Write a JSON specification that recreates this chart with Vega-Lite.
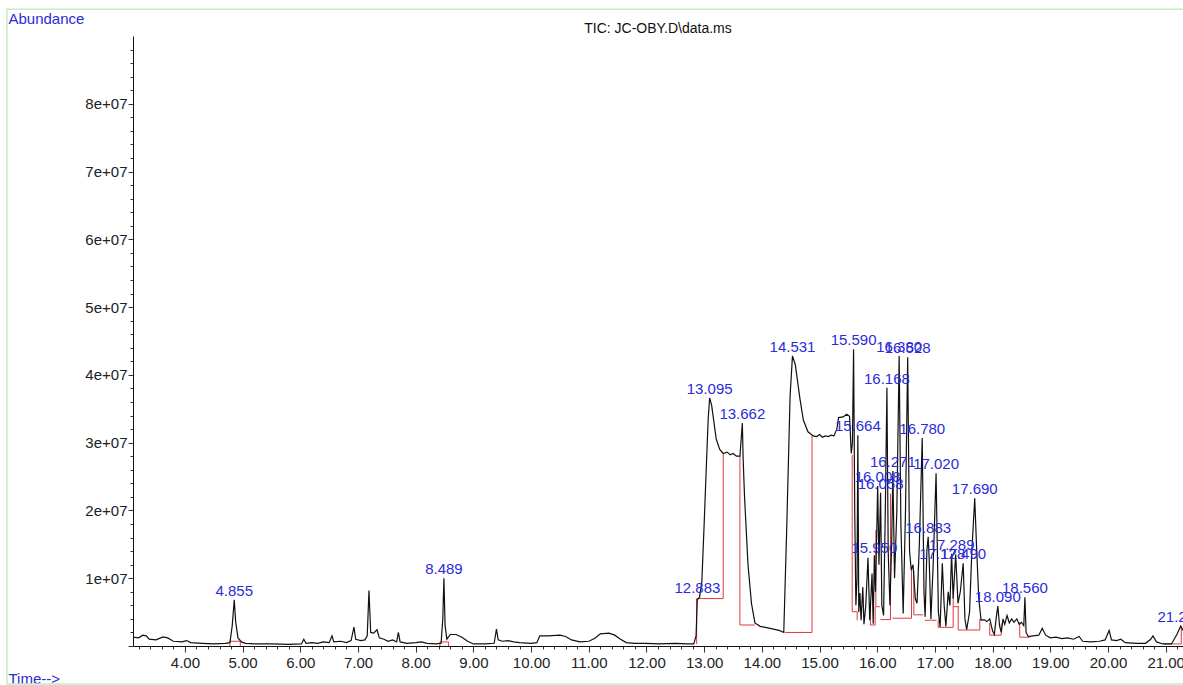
{
  "$schema": "https://vega.github.io/schema/vega-lite/v6.json",
  "autosize": {"type": "none"},
  "width": 1050,
  "height": 610,
  "padding": {"left": 133, "top": 36, "right": 0, "bottom": 39},
  "background": "white",
  "config": {"view": {"stroke": null}, "font": "Liberation Sans"},
  "title": {"text": "TIC: JC-OBY.D\\data.ms", "anchor": "middle", "frame": "group", "fontSize": 14, "fontWeight": "normal", "color": "#111111", "baseline": "bottom", "offset": -42, "font": "Liberation Sans"},
  "datasets": {
    "tic": [
      {"t":3.10,"a":1300000},{"t":3.20,"a":1200000},{"t":3.27,"a":1600000},{"t":3.33,"a":1500000},{"t":3.38,"a":1000000},{"t":3.50,"a":900000},{"t":3.62,"a":1350000},{"t":3.70,"a":1200000},{"t":3.80,"a":700000},{"t":3.95,"a":600000},{"t":4.03,"a":800000},{"t":4.10,"a":500000},{"t":4.30,"a":400000},{"t":4.50,"a":300000},{"t":4.70,"a":400000},{"t":4.78,"a":500000},{"t":4.82,"a":3000000},{"t":4.855,"a":6800000},{"t":4.88,"a":3500000},{"t":4.92,"a":1200000},{"t":4.98,"a":600000},{"t":5.05,"a":400000},{"t":5.20,"a":300000},{"t":5.50,"a":300000},{"t":5.80,"a":250000},{"t":6.02,"a":300000},{"t":6.06,"a":1000000},{"t":6.10,"a":400000},{"t":6.20,"a":500000},{"t":6.30,"a":400000},{"t":6.40,"a":600000},{"t":6.50,"a":500000},{"t":6.55,"a":1500000},{"t":6.58,"a":600000},{"t":6.70,"a":700000},{"t":6.80,"a":500000},{"t":6.88,"a":800000},{"t":6.93,"a":2800000},{"t":6.96,"a":1000000},{"t":7.05,"a":800000},{"t":7.12,"a":900000},{"t":7.16,"a":1500000},{"t":7.19,"a":8200000},{"t":7.22,"a":2000000},{"t":7.27,"a":1900000},{"t":7.33,"a":2400000},{"t":7.37,"a":1200000},{"t":7.45,"a":1000000},{"t":7.52,"a":700000},{"t":7.60,"a":900000},{"t":7.67,"a":600000},{"t":7.70,"a":2000000},{"t":7.73,"a":600000},{"t":7.85,"a":400000},{"t":8.00,"a":500000},{"t":8.10,"a":600000},{"t":8.20,"a":400000},{"t":8.35,"a":300000},{"t":8.44,"a":400000},{"t":8.47,"a":4000000},{"t":8.489,"a":10000000},{"t":8.51,"a":3000000},{"t":8.54,"a":1000000},{"t":8.60,"a":1700000},{"t":8.70,"a":1700000},{"t":8.80,"a":1300000},{"t":8.90,"a":700000},{"t":9.00,"a":300000},{"t":9.20,"a":300000},{"t":9.36,"a":400000},{"t":9.40,"a":2500000},{"t":9.43,"a":900000},{"t":9.50,"a":700000},{"t":9.60,"a":800000},{"t":9.70,"a":600000},{"t":9.80,"a":500000},{"t":10.00,"a":400000},{"t":10.10,"a":500000},{"t":10.15,"a":1500000},{"t":10.30,"a":1500000},{"t":10.50,"a":1600000},{"t":10.60,"a":1400000},{"t":10.70,"a":900000},{"t":10.85,"a":600000},{"t":11.00,"a":700000},{"t":11.10,"a":1100000},{"t":11.20,"a":1800000},{"t":11.35,"a":1900000},{"t":11.45,"a":1600000},{"t":11.55,"a":1000000},{"t":11.65,"a":500000},{"t":11.80,"a":400000},{"t":12.00,"a":400000},{"t":12.20,"a":300000},{"t":12.50,"a":400000},{"t":12.70,"a":300000},{"t":12.82,"a":300000},{"t":12.86,"a":1500000},{"t":12.88,"a":6800000},{"t":12.92,"a":7200000},{"t":12.96,"a":9500000},{"t":13.00,"a":18000000},{"t":13.04,"a":27000000},{"t":13.07,"a":33500000},{"t":13.095,"a":36600000},{"t":13.13,"a":35500000},{"t":13.17,"a":33000000},{"t":13.21,"a":30500000},{"t":13.27,"a":29000000},{"t":13.33,"a":28400000},{"t":13.40,"a":28600000},{"t":13.45,"a":28200000},{"t":13.50,"a":28400000},{"t":13.56,"a":28000000},{"t":13.62,"a":28000000},{"t":13.662,"a":32900000},{"t":13.675,"a":27800000},{"t":13.70,"a":22000000},{"t":13.76,"a":12000000},{"t":13.82,"a":6300000},{"t":13.88,"a":3400000},{"t":13.97,"a":2900000},{"t":14.14,"a":2600000},{"t":14.30,"a":2300000},{"t":14.38,"a":2000000},{"t":14.43,"a":17000000},{"t":14.49,"a":37000000},{"t":14.531,"a":42800000},{"t":14.58,"a":41500000},{"t":14.62,"a":39000000},{"t":14.66,"a":36500000},{"t":14.72,"a":33300000},{"t":14.80,"a":31600000},{"t":14.89,"a":31000000},{"t":14.95,"a":30900000},{"t":15.00,"a":31200000},{"t":15.05,"a":30800000},{"t":15.10,"a":31000000},{"t":15.15,"a":30900000},{"t":15.20,"a":31100000},{"t":15.25,"a":31000000},{"t":15.30,"a":32000000},{"t":15.33,"a":33700000},{"t":15.41,"a":33800000},{"t":15.47,"a":34200000},{"t":15.52,"a":33900000},{"t":15.55,"a":28400000},{"t":15.57,"a":30000000},{"t":15.59,"a":43800000},{"t":15.61,"a":20000000},{"t":15.63,"a":6000000},{"t":15.65,"a":10000000},{"t":15.664,"a":31100000},{"t":15.68,"a":5000000},{"t":15.70,"a":7800000},{"t":15.72,"a":3800000},{"t":15.75,"a":8700000},{"t":15.77,"a":3200000},{"t":15.80,"a":5800000},{"t":15.84,"a":13000000},{"t":15.87,"a":3800000},{"t":15.91,"a":10700000},{"t":15.93,"a":3300000},{"t":15.95,"a":13400000},{"t":15.97,"a":8000000},{"t":16.008,"a":23600000},{"t":16.03,"a":12000000},{"t":16.058,"a":22600000},{"t":16.08,"a":6000000},{"t":16.11,"a":4500000},{"t":16.14,"a":20000000},{"t":16.168,"a":38100000},{"t":16.19,"a":14000000},{"t":16.22,"a":6000000},{"t":16.25,"a":15000000},{"t":16.271,"a":25800000},{"t":16.30,"a":10000000},{"t":16.34,"a":20000000},{"t":16.38,"a":42800000},{"t":16.41,"a":18000000},{"t":16.45,"a":4800000},{"t":16.49,"a":20000000},{"t":16.528,"a":42600000},{"t":16.56,"a":14000000},{"t":16.59,"a":11200000},{"t":16.62,"a":12000000},{"t":16.66,"a":7000000},{"t":16.69,"a":6300000},{"t":16.73,"a":15000000},{"t":16.78,"a":30700000},{"t":16.81,"a":8000000},{"t":16.83,"a":4300000},{"t":16.86,"a":14000000},{"t":16.883,"a":16100000},{"t":16.90,"a":13000000},{"t":16.93,"a":4000000},{"t":16.97,"a":12000000},{"t":17.02,"a":25500000},{"t":17.06,"a":5000000},{"t":17.09,"a":2800000},{"t":17.128,"a":12200000},{"t":17.16,"a":6000000},{"t":17.19,"a":2900000},{"t":17.23,"a":8000000},{"t":17.26,"a":6000000},{"t":17.289,"a":13600000},{"t":17.316,"a":7000000},{"t":17.36,"a":13500000},{"t":17.40,"a":6300000},{"t":17.44,"a":8000000},{"t":17.49,"a":12200000},{"t":17.52,"a":4000000},{"t":17.55,"a":2400000},{"t":17.60,"a":5000000},{"t":17.64,"a":14000000},{"t":17.69,"a":21800000},{"t":17.72,"a":15000000},{"t":17.76,"a":7000000},{"t":17.80,"a":3800000},{"t":17.85,"a":3900000},{"t":17.90,"a":3600000},{"t":17.95,"a":4000000},{"t":18.00,"a":2200000},{"t":18.03,"a":1700000},{"t":18.06,"a":4000000},{"t":18.09,"a":5900000},{"t":18.12,"a":3000000},{"t":18.15,"a":2000000},{"t":18.18,"a":4000000},{"t":18.21,"a":3200000},{"t":18.25,"a":4500000},{"t":18.29,"a":3400000},{"t":18.33,"a":4000000},{"t":18.37,"a":3500000},{"t":18.42,"a":4000000},{"t":18.46,"a":3200000},{"t":18.50,"a":3500000},{"t":18.54,"a":3000000},{"t":18.56,"a":7200000},{"t":18.58,"a":2000000},{"t":18.62,"a":1400000},{"t":18.70,"a":1500000},{"t":18.80,"a":1600000},{"t":18.86,"a":2600000},{"t":18.92,"a":1600000},{"t":19.00,"a":1200000},{"t":19.10,"a":1300000},{"t":19.20,"a":1100000},{"t":19.30,"a":1200000},{"t":19.40,"a":1000000},{"t":19.50,"a":1400000},{"t":19.56,"a":700000},{"t":19.70,"a":600000},{"t":19.85,"a":700000},{"t":19.95,"a":900000},{"t":20.02,"a":2300000},{"t":20.06,"a":900000},{"t":20.15,"a":800000},{"t":20.22,"a":1000000},{"t":20.30,"a":500000},{"t":20.50,"a":400000},{"t":20.65,"a":400000},{"t":20.74,"a":1000000},{"t":20.78,"a":1500000},{"t":20.84,"a":600000},{"t":20.95,"a":300000},{"t":21.10,"a":300000},{"t":21.20,"a":1800000},{"t":21.26,"a":2950000},{"t":21.30,"a":2300000}
    ],
    "base": [
      {"seg":1,"i":0,"t":4.78,"a":0},{"seg":1,"i":1,"t":4.78,"a":700000},{"seg":1,"i":2,"t":4.96,"a":700000},{"seg":1,"i":3,"t":4.96,"a":0},
      {"seg":2,"i":0,"t":8.42,"a":0},{"seg":2,"i":1,"t":8.42,"a":600000},{"seg":2,"i":2,"t":8.57,"a":600000},{"seg":2,"i":3,"t":8.57,"a":0},
      {"seg":3,"i":0,"t":12.87,"a":300000},{"seg":3,"i":1,"t":12.87,"a":7000000},{"seg":3,"i":2,"t":13.33,"a":7000000},{"seg":3,"i":3,"t":13.33,"a":28400000},
      {"seg":4,"i":0,"t":13.62,"a":28000000},{"seg":4,"i":1,"t":13.62,"a":3100000},{"seg":4,"i":2,"t":13.88,"a":3100000},
      {"seg":5,"i":0,"t":14.40,"a":2000000},{"seg":5,"i":1,"t":14.87,"a":2000000},{"seg":5,"i":2,"t":14.87,"a":31000000},
      {"seg":6,"i":0,"t":15.566,"a":28200000},{"seg":6,"i":1,"t":15.566,"a":5060000},{"seg":6,"i":2,"t":15.652,"a":5060000},{"seg":6,"i":3,"t":15.652,"a":3800000},
      {"seg":7,"i":0,"t":15.883,"a":5800000},{"seg":7,"i":1,"t":15.883,"a":3100000},{"seg":7,"i":2,"t":15.964,"a":3100000},{"seg":7,"i":3,"t":15.964,"a":5800000},
      {"seg":8,"i":0,"t":15.976,"a":17100000},{"seg":8,"i":1,"t":15.976,"a":5800000},{"seg":8,"i":2,"t":16.045,"a":5800000},
      {"seg":9,"i":0,"t":16.057,"a":3900000},{"seg":9,"i":1,"t":16.23,"a":3900000},{"seg":9,"i":2,"t":16.23,"a":22500000},
      {"seg":10,"i":0,"t":16.265,"a":4100000},{"seg":10,"i":1,"t":16.594,"a":4100000},{"seg":10,"i":2,"t":16.594,"a":11200000},
      {"seg":11,"i":0,"t":16.634,"a":11200000},{"seg":11,"i":1,"t":16.634,"a":4600000},{"seg":11,"i":2,"t":16.796,"a":4600000},
      {"seg":12,"i":0,"t":16.825,"a":3800000},{"seg":12,"i":1,"t":17.027,"a":3800000},
      {"seg":13,"i":0,"t":17.056,"a":3800000},{"seg":13,"i":1,"t":17.056,"a":2750000},{"seg":13,"i":2,"t":17.316,"a":2750000},{"seg":13,"i":3,"t":17.316,"a":7300000},
      {"seg":14,"i":0,"t":17.316,"a":5800000},{"seg":14,"i":1,"t":17.42,"a":5800000},
      {"seg":15,"i":0,"t":17.403,"a":5800000},{"seg":15,"i":1,"t":17.403,"a":2360000},{"seg":15,"i":2,"t":17.778,"a":2360000},{"seg":15,"i":3,"t":17.778,"a":4000000},
      {"seg":16,"i":0,"t":17.95,"a":3400000},{"seg":16,"i":1,"t":17.95,"a":1600000},{"seg":16,"i":2,"t":18.15,"a":1600000},{"seg":16,"i":3,"t":18.15,"a":3300000},
      {"seg":17,"i":0,"t":18.47,"a":3500000},{"seg":17,"i":1,"t":18.47,"a":1300000},{"seg":17,"i":2,"t":18.64,"a":1300000},
      {"seg":18,"i":0,"t":20.96,"a":300000},{"seg":18,"i":1,"t":21.27,"a":300000},{"seg":18,"i":2,"t":21.27,"a":2900000}
    ],
    "peaks": [
      {"t":4.855,"a":6800000,"label":"4.855"},
      {"t":8.489,"a":10000000,"label":"8.489"},
      {"t":12.883,"a":7200000,"label":"12.883"},
      {"t":13.095,"a":36600000,"label":"13.095"},
      {"t":13.662,"a":32900000,"label":"13.662"},
      {"t":14.531,"a":42800000,"label":"14.531"},
      {"t":15.590,"a":43800000,"label":"15.590"},
      {"t":15.664,"a":31100000,"label":"15.664"},
      {"t":15.950,"a":13100000,"label":"15.950"},
      {"t":16.008,"a":23600000,"label":"16.008"},
      {"t":16.058,"a":22600000,"label":"16.058"},
      {"t":16.168,"a":38100000,"label":"16.168"},
      {"t":16.271,"a":25800000,"label":"16.271"},
      {"t":16.380,"a":42800000,"label":"16.380"},
      {"t":16.528,"a":42600000,"label":"16.528"},
      {"t":16.780,"a":30700000,"label":"16.780"},
      {"t":16.883,"a":16100000,"label":"16.883"},
      {"t":17.020,"a":25500000,"label":"17.020"},
      {"t":17.128,"a":12200000,"label":"17.128"},
      {"t":17.289,"a":13600000,"label":"17.289"},
      {"t":17.490,"a":12200000,"label":"17.490"},
      {"t":17.690,"a":21800000,"label":"17.690"},
      {"t":18.090,"a":5900000,"label":"18.090"},
      {"t":18.560,"a":7200000,"label":"18.560"},
      {"t":21.255,"a":2950000,"label":"21.255"}
    ]
  },
  "layer": [
    {
      "data": {"values": [{}]},
      "mark": {"type": "rect", "fill": null, "stroke": "#c4ebc4", "strokeWidth": 1.5},
      "encoding": {
        "x": {"datum": 0.915, "type": "quantitative"},
        "x2": {"datum": 21.6},
        "y": {"datum": 93950000, "type": "quantitative"},
        "y2": {"datum": -5600000}
      }
    },
    {
      "data": {"name": "base"},
      "mark": {"type": "line", "color": "#e23a3a", "strokeWidth": 1, "clip": true},
      "encoding": {
        "x": {"field": "t", "type": "quantitative"},
        "y": {"field": "a", "type": "quantitative"},
        "detail": {"field": "seg"},
        "order": {"field": "i"}
      }
    },
    {
      "data": {"name": "tic"},
      "mark": {"type": "line", "color": "#111111", "strokeWidth": 1.2, "clip": true},
      "encoding": {
        "x": {
          "field": "t", "type": "quantitative",
          "scale": {"domain": [3.1, 21.3], "nice": false, "zero": false},
          "axis": {
            "title": "Time-->",
            "titleColor": "#2b2bd8", "titleFont": "Liberation Sans", "titleFontSize": 15, "titleFontWeight": "normal",
            "titleAngle": 0, "titleAlign": "left", "titleBaseline": "middle", "titleAnchor": "start",
            "titleX": -125, "titleY": 32,
            "tickCount": 200,
            "values": [3.2,3.4,3.6,3.8,4,4.2,4.4,4.6,4.8,5,5.2,5.4,5.6,5.8,6,6.2,6.4,6.6,6.8,7,7.2,7.4,7.6,7.8,8,8.2,8.4,8.6,8.8,9,9.2,9.4,9.6,9.8,10,10.2,10.4,10.6,10.8,11,11.2,11.4,11.6,11.8,12,12.2,12.4,12.6,12.8,13,13.2,13.4,13.6,13.8,14,14.2,14.4,14.6,14.8,15,15.2,15.4,15.6,15.8,16,16.2,16.4,16.6,16.8,17,17.2,17.4,17.6,17.8,18,18.2,18.4,18.6,18.8,19,19.2,19.4,19.6,19.8,20,20.2,20.4,20.6,20.8,21,21.2],
            "labelExpr": "abs(datum.value - round(datum.value)) < 0.001 ? format(datum.value, '.2f') : ''",
            "labelOverlap": false, "labelFlush": false, "labelBound": false,
            "labelFont": "Liberation Sans", "labelFontSize": 15, "labelColor": "#222222", "labelPadding": 3,
            "domainColor": "#111111", "domainWidth": 1,
            "tickColor": "#333333", "tickWidth": 1,
            "tickSize": {"condition": {"test": "abs(datum.value - round(datum.value)) < 0.001", "value": 6}, "value": 3},
            "grid": false
          }
        },
        "y": {
          "field": "a", "type": "quantitative",
          "scale": {"domain": [0, 90000000], "nice": false, "zero": true},
          "axis": {
            "title": "Abundance",
            "titleColor": "#2b2bd8", "titleFont": "Liberation Sans", "titleFontSize": 15, "titleFontWeight": "normal",
            "titleAngle": 0, "titleAlign": "left", "titleBaseline": "middle", "titleAnchor": "start",
            "titleX": -125, "titleY": -18,
            "tickCount": 200,
            "values": [0,2000000,4000000,6000000,8000000,10000000,12000000,14000000,16000000,18000000,20000000,22000000,24000000,26000000,28000000,30000000,32000000,34000000,36000000,38000000,40000000,42000000,44000000,46000000,48000000,50000000,52000000,54000000,56000000,58000000,60000000,62000000,64000000,66000000,68000000,70000000,72000000,74000000,76000000,78000000,80000000,82000000,84000000,86000000,88000000],
            "labelExpr": "(datum.value % 10000000 === 0 && datum.value > 0 && datum.value < 90000000) ? (datum.value / 10000000) + 'e+07' : ''",
            "labelOverlap": false, "labelFlush": false, "labelBound": false,
            "labelFont": "Liberation Sans", "labelFontSize": 15, "labelColor": "#222222", "labelPadding": 1,
            "domainColor": "#111111", "domainWidth": 1,
            "tickColor": "#333333", "tickWidth": 1,
            "tickSize": {"condition": {"test": "datum.value % 10000000 === 0", "value": 5}, "value": 3},
            "grid": false
          }
        }
      }
    },
    {
      "data": {"name": "peaks"},
      "mark": {"type": "text", "color": "#2b2bd8", "font": "Liberation Sans", "fontSize": 15, "align": "center", "baseline": "bottom", "dy": -1},
      "encoding": {
        "x": {"field": "t", "type": "quantitative"},
        "y": {"field": "a", "type": "quantitative"},
        "text": {"field": "label"}
      }
    }
  ]
}
